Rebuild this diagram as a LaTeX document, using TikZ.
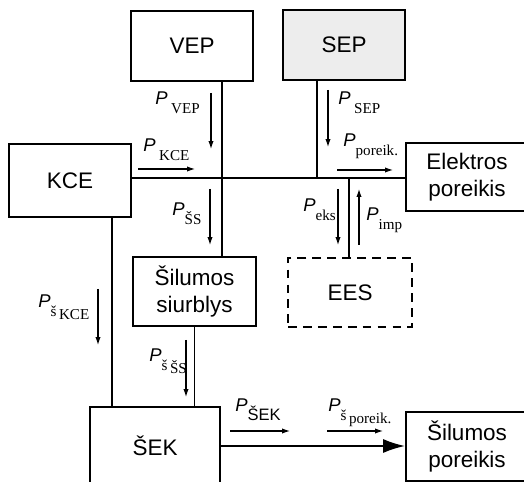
\documentclass[tikz,border=0pt]{standalone}
\usepackage{fontspec}
\setmainfont{Liberation Sans}
\newfontfamily\subrm{Liberation Serif}
\usetikzlibrary{arrows.meta}

\tikzset{
  blok/.style={draw, line width=1.1pt, minimum width=2.44cm, minimum height=1.4cm,
    align=center, inner sep=0pt, font=\fontsize{12.8}{15.4}\selectfont},
  linija/.style={line width=1.1pt},
  srautas/.style={line width=0.6pt, -{Latex[length=4.5pt,width=3pt]}},
  zyme/.style={anchor=base west, inner sep=0pt},
}
\newcommand{\Pl}[1]{{\fontsize{10.5}{12}\selectfont\itshape P}\raisebox{-5pt}{\fontsize{8.6}{10}\subrm #1}}

\begin{document}
\begin{tikzpicture}[x=0.02cm, y=-0.02cm]
            \useasboundingbox (0,0) rectangle (524,482);
            \clip (0,0) rectangle (524,482);

            \node[blok] (VEP) at (192,46) {VEP};
            \node[blok, fill=black!7] (SEP) at (344,45) {SEP};
            \node[blok, minimum height=1.46cm] (KCE) at (70,180.5) {KCE};
            \node[blok, minimum height=1.36cm] (Elektros) at (467,177) {Elektros\\poreikis};
            \node[blok, minimum width=2.46cm, minimum height=1.38cm] (Siurblys) at (194.5,291.5) {Šilumos\\siurblys};
            \node[blok, dash pattern=on 5pt off 3.5pt, minimum width=2.48cm, minimum height=1.38cm] (EES) at (350,292.5) {EES};
            \node[blok, minimum width=2.6cm, minimum height=1.56cm] (SEK) at (155,446) {ŠEK};
            \node[blok, minimum height=1.38cm] (Silpor) at (467,446.5) {Šilumos\\poreikis};

            \coordinate (jv) at (222,178);
            \coordinate (js) at (317,178);
            \coordinate (je) at (349,178);
            \coordinate (jk) at (112,300);

            \draw[linija] (KCE.east |- jv) -- (Elektros.west |- jv);
            \draw[linija] (jv |- VEP.south) -- (jv |- Siurblys.north);
            \draw[linija] (js |- SEP.south) -- (js);
            \draw[linija] (je) -- (je |- EES.north);
            \draw[linija] (jk |- KCE.south) -- (jk |- SEK.north);
            \draw[linija] (Siurblys.south) -- (Siurblys.south |- SEK.north);
            \draw[linija, -{Latex[length=12.5pt,width=8pt]}] (SEK.east) -- (SEK.east -| Silpor.west);

            \node[zyme] (lVEP) at (155,105) {\Pl{\kern2pt VEP}};
            \node[zyme] (lSEP) at (338,105) {\Pl{\kern2pt SEP}};
            \node[zyme] (lKCE) at (143,152) {\Pl{\kern2pt KCE}};
            \node[zyme] (lpor) at (343,147) {\Pl{poreik.}};
            \node[zyme] (lSS) at (172,216) {\Pl{ŠS}};
            \node[zyme] (leks) at (303,212) {\Pl{eks}};
            \node[zyme] (limp) at (366,221) {\Pl{imp}};
            \node[zyme] (lsKCE) at (38,308) {\Pl{š\raisebox{-1.5pt}{\,KCE}}};
            \node[zyme] (lssS) at (149,362) {\Pl{š\raisebox{-1.5pt}{\,ŠS}}};
            \node[zyme] (lSEK) at (235,412) {\Pl{\normalfont\fontsize{9.4}{10}\selectfont ŠEK}};
            \node[zyme] (lspor) at (328,412) {\Pl{š\raisebox{-1.5pt}{\,poreik.}}};

            \draw[srautas] (211,93) -- (211,149);
            \draw[srautas] (328,90) -- (328,147);
            \draw[srautas] (138,169) -- (195,169);
            \draw[srautas] (210,189) -- (210,245);
            \draw[srautas] (337,170) -- (393,170);
            \draw[srautas] (338,189) -- (338,245);
            \draw[srautas] (359,245) -- (359,189);
            \draw[srautas] (98,289) -- (98,345);
            \draw[srautas] (186,340) -- (186,397);
            \draw[srautas] (230,431) -- (290,431);
            \draw[srautas] (327,431) -- (383,431);
        \end{tikzpicture}
\end{document}
